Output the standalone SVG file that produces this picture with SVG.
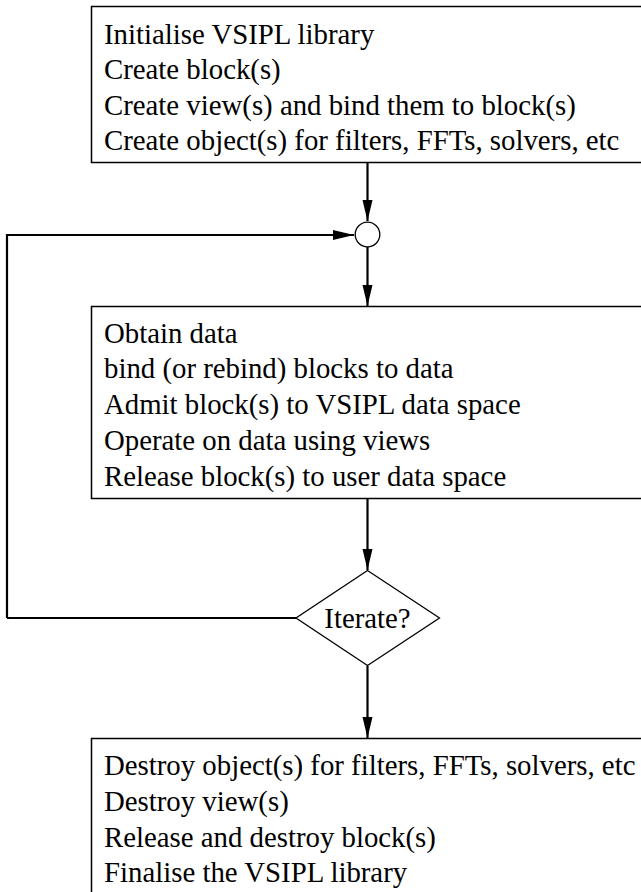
<svg xmlns="http://www.w3.org/2000/svg" width="641" height="892" viewBox="0 0 641 892">
<style>
.box{fill:#fff;stroke:#000;stroke-width:1.5}
.shape{fill:#fff;stroke:#000;stroke-width:1.3}
.t{font-family:"Liberation Serif","Times New Roman",serif;font-size:28.8px;fill:#000}
.c{fill:none;stroke:#000;stroke-width:2.2}
</style>
<defs>
<marker id="ah" markerUnits="userSpaceOnUse" markerWidth="22" markerHeight="12" refX="21" refY="5" orient="auto">
<path d="M0,0 L21,5 L0,10 z" fill="#000"/>
</marker>
</defs>
<g id="connectors">
<path class="c" d="M367.5,163 V221" marker-end="url(#ah)"/>
<path class="c" d="M7,618 V235 H354" marker-end="url(#ah)"/>
<path class="c" d="M296,618 H7"/>
<path class="c" d="M367.5,247 V306" marker-end="url(#ah)"/>
<path class="c" d="M367.5,499 V570" marker-end="url(#ah)"/>
<path class="c" d="M367.5,666 V738" marker-end="url(#ah)"/>
</g>
<g id="init">
<rect class="box" x="91.5" y="6.5" width="560" height="156"/>
<text class="t" x="104" y="43.5">Initialise VSIPL library</text>
<text class="t" x="104" y="79">Create block(s)</text>
<text class="t" x="104" y="114.5">Create view(s) and bind them to block(s)</text>
<text class="t" x="104" y="150">Create object(s) for filters, FFTs, solvers, etc</text>
</g>
<g id="junction">
<circle class="shape" cx="367.5" cy="234.5" r="12.3"/>
</g>
<g id="process">
<rect class="box" x="91.5" y="306.5" width="560" height="192"/>
<text class="t" x="104" y="342.5">Obtain data</text>
<text class="t" x="104" y="378">bind (or rebind) blocks to data</text>
<text class="t" x="104" y="414">Admit block(s) to VSIPL data space</text>
<text class="t" x="104" y="450">Operate on data using views</text>
<text class="t" x="104" y="485.5">Release block(s) to user data space</text>
</g>
<g id="iterate">
<polygon class="shape" points="367.5,570.5 439.5,618 367.5,665.5 296,618"/>
<text class="t" x="367.5" y="628" text-anchor="middle">Iterate?</text>
</g>
<g id="finalise">
<rect class="box" x="91.5" y="738.5" width="560" height="170"/>
<text class="t" x="104" y="775">Destroy object(s) for filters, FFTs, solvers, etc</text>
<text class="t" x="104" y="811">Destroy view(s)</text>
<text class="t" x="104" y="846.5">Release and destroy block(s)</text>
<text class="t" x="104" y="882">Finalise the VSIPL library</text>
</g>
</svg>
